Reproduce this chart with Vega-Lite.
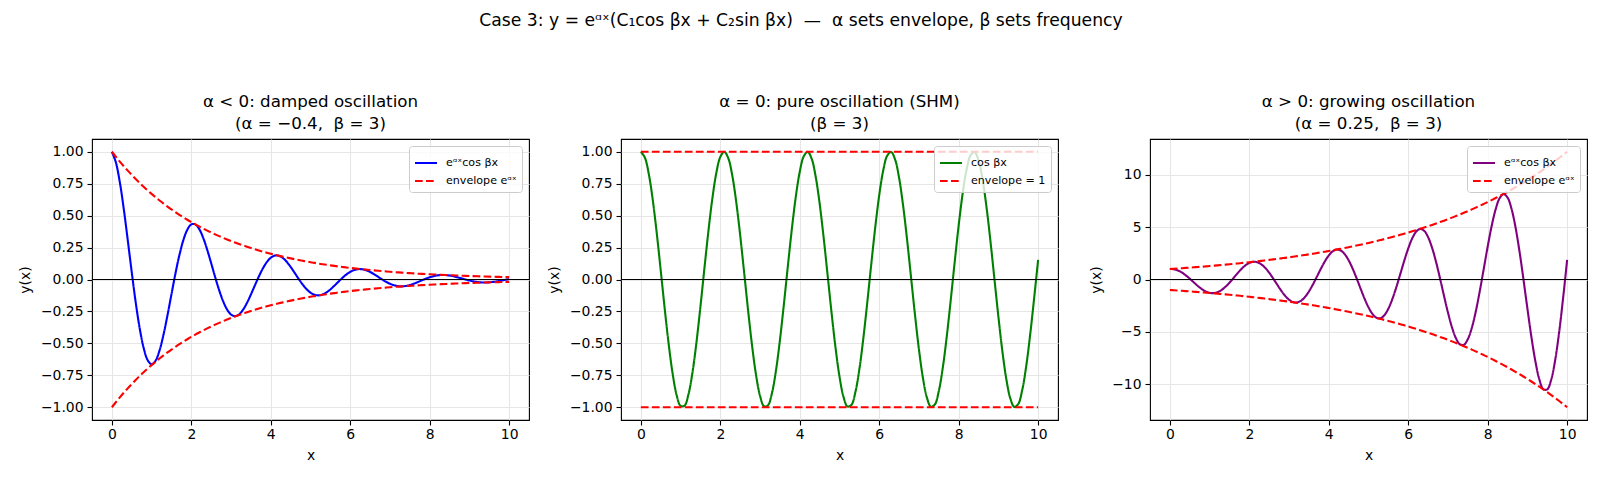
{
"$schema": "https://vega.github.io/schema/vega-lite/v6.json",
"background": "white",
"padding": {"left": 17, "top": 11, "right": 5, "bottom": 5},
"title": {"text": "Case 3: y = eᵅˣ(C₁cos βx + C₂sin βx) \u00a0—\u00a0 α sets envelope, β sets frequency", "anchor": "middle", "offset": 65, "fontSize": 17.2, "dx": -2},
"datasets": {
"d": [
{"x":0,"y1":1,"e1":1,"n1":-1,"y2":1,"y3":1,"e3":1,"n3":-1},
{"x":0.1,"y1":0.9179,"e1":0.9608,"n1":-0.9608,"y2":0.9553,"y3":0.9795,"e3":1.025,"n3":-1.025},
{"x":0.2,"y1":0.7619,"e1":0.9231,"n1":-0.9231,"y2":0.8253,"y3":0.8676,"e3":1.051,"n3":-1.051},
{"x":0.3,"y1":0.5513,"e1":0.8869,"n1":-0.8869,"y2":0.6216,"y3":0.67,"e3":1.078,"n3":-1.078},
{"x":0.4,"y1":0.3088,"e1":0.8521,"n1":-0.8521,"y2":0.3624,"y3":0.4005,"e3":1.105,"n3":-1.105},
{"x":0.5,"y1":0.0579,"e1":0.8187,"n1":-0.8187,"y2":0.0707,"y3":0.0801,"e3":1.133,"n3":-1.133},
{"x":0.6,"y1":-0.1787,"e1":0.7866,"n1":-0.7866,"y2":-0.2272,"y3":-0.264,"e3":1.162,"n3":-1.162},
{"x":0.7,"y1":-0.3815,"e1":0.7558,"n1":-0.7558,"y2":-0.5048,"y3":-0.6013,"e3":1.191,"n3":-1.191},
{"x":0.8,"y1":-0.5355,"e1":0.7261,"n1":-0.7261,"y2":-0.7374,"y3":-0.9007,"e3":1.221,"n3":-1.221},
{"x":0.9,"y1":-0.6308,"e1":0.6977,"n1":-0.6977,"y2":-0.9041,"y3":-1.1322,"e3":1.252,"n3":-1.252},
{"x":1.0,"y1":-0.6636,"e1":0.6703,"n1":-0.6703,"y2":-0.99,"y3":-1.2712,"e3":1.284,"n3":-1.284},
{"x":1.1,"y1":-0.636,"e1":0.644,"n1":-0.644,"y2":-0.9875,"y3":-1.3001,"e3":1.317,"n3":-1.317},
{"x":1.2,"y1":-0.5549,"e1":0.6188,"n1":-0.6188,"y2":-0.8968,"y3":-1.2106,"e3":1.35,"n3":-1.35},
{"x":1.3,"y1":-0.4316,"e1":0.5945,"n1":-0.5945,"y2":-0.7259,"y3":-1.0047,"e3":1.384,"n3":-1.384},
{"x":1.4,"y1":-0.2801,"e1":0.5712,"n1":-0.5712,"y2":-0.4903,"y3":-0.6958,"e3":1.419,"n3":-1.419},
{"x":1.5,"y1":-0.1157,"e1":0.5488,"n1":-0.5488,"y2":-0.2108,"y3":-0.3067,"e3":1.455,"n3":-1.455},
{"x":1.6,"y1":0.0461,"e1":0.5273,"n1":-0.5273,"y2":0.0875,"y3":0.1305,"e3":1.492,"n3":-1.492},
{"x":1.7,"y1":0.1915,"e1":0.5066,"n1":-0.5066,"y2":0.378,"y3":0.5782,"e3":1.53,"n3":-1.53},
{"x":1.8,"y1":0.3089,"e1":0.4868,"n1":-0.4868,"y2":0.6347,"y3":0.9954,"e3":1.568,"n3":-1.568},
{"x":1.9,"y1":0.3904,"e1":0.4677,"n1":-0.4677,"y2":0.8347,"y3":1.3422,"e3":1.608,"n3":-1.608},
{"x":2.0,"y1":0.4314,"e1":0.4493,"n1":-0.4493,"y2":0.9602,"y3":1.5831,"e3":1.649,"n3":-1.649},
{"x":2.1,"y1":0.4317,"e1":0.4317,"n1":-0.4317,"y2":0.9999,"y3":1.6903,"e3":1.69,"n3":-1.69},
{"x":2.2,"y1":0.3941,"e1":0.4148,"n1":-0.4148,"y2":0.9502,"y3":1.6469,"e3":1.733,"n3":-1.733},
{"x":2.3,"y1":0.3251,"e1":0.3985,"n1":-0.3985,"y2":0.8157,"y3":1.4496,"e3":1.777,"n3":-1.777},
{"x":2.4,"y1":0.233,"e1":0.3829,"n1":-0.3829,"y2":0.6084,"y3":1.1086,"e3":1.822,"n3":-1.822},
{"x":2.5,"y1":0.1275,"e1":0.3679,"n1":-0.3679,"y2":0.3466,"y3":0.6475,"e3":1.868,"n3":-1.868},
{"x":2.6,"y1":0.0191,"e1":0.3535,"n1":-0.3535,"y2":0.054,"y3":0.1034,"e3":1.916,"n3":-1.916},
{"x":2.7,"y1":-0.0827,"e1":0.3396,"n1":-0.3396,"y2":-0.2436,"y3":-0.4784,"e3":1.964,"n3":-1.964},
{"x":2.8,"y1":-0.1694,"e1":0.3263,"n1":-0.3263,"y2":-0.5193,"y3":-1.0457,"e3":2.014,"n3":-2.014},
{"x":2.9,"y1":-0.2347,"e1":0.3135,"n1":-0.3135,"y2":-0.7487,"y3":-1.5459,"e3":2.065,"n3":-2.065},
{"x":3.0,"y1":-0.2744,"e1":0.3012,"n1":-0.3012,"y2":-0.9111,"y3":-1.9288,"e3":2.117,"n3":-2.117},
{"x":3.1,"y1":-0.2871,"e1":0.2894,"n1":-0.2894,"y2":-0.9922,"y3":-2.1537,"e3":2.171,"n3":-2.171},
{"x":3.2,"y1":-0.2738,"e1":0.278,"n1":-0.278,"y2":-0.9847,"y3":-2.1915,"e3":2.226,"n3":-2.226},
{"x":3.3,"y1":-0.2375,"e1":0.2671,"n1":-0.2671,"y2":-0.8892,"y3":-2.029,"e3":2.282,"n3":-2.282},
{"x":3.4,"y1":-0.1833,"e1":0.2567,"n1":-0.2567,"y2":-0.7143,"y3":-1.6712,"e3":2.34,"n3":-2.34},
{"x":3.5,"y1":-0.1173,"e1":0.2466,"n1":-0.2466,"y2":-0.4755,"y3":-1.1407,"e3":2.399,"n3":-2.399},
{"x":3.6,"y1":-0.046,"e1":0.2369,"n1":-0.2369,"y2":-0.1943,"y3":-0.4779,"e3":2.46,"n3":-2.46},
{"x":3.7,"y1":0.0237,"e1":0.2276,"n1":-0.2276,"y2":0.1042,"y3":0.2628,"e3":2.522,"n3":-2.522},
{"x":3.8,"y1":0.0861,"e1":0.2187,"n1":-0.2187,"y2":0.3935,"y3":1.0175,"e3":2.586,"n3":-2.586},
{"x":3.9,"y1":0.1361,"e1":0.2101,"n1":-0.2101,"y2":0.6476,"y3":1.7169,"e3":2.651,"n3":-2.651},
{"x":4.0,"y1":0.1704,"e1":0.2019,"n1":-0.2019,"y2":0.8439,"y3":2.294,"e3":2.718,"n3":-2.718},
{"x":4.1,"y1":0.1871,"e1":0.194,"n1":-0.194,"y2":0.9647,"y3":2.6887,"e3":2.787,"n3":-2.787},
{"x":4.2,"y1":0.1863,"e1":0.1864,"n1":-0.1864,"y2":0.9994,"y3":2.8559,"e3":2.858,"n3":-2.858},
{"x":4.3,"y1":0.1692,"e1":0.1791,"n1":-0.1791,"y2":0.9449,"y3":2.7686,"e3":2.93,"n3":-2.93},
{"x":4.4,"y1":0.1387,"e1":0.172,"n1":-0.172,"y2":0.8059,"y3":2.4211,"e3":3.004,"n3":-3.004},
{"x":4.5,"y1":0.0983,"e1":0.1653,"n1":-0.1653,"y2":0.5949,"y3":1.8324,"e3":3.08,"n3":-3.08},
{"x":4.6,"y1":0.0525,"e1":0.1588,"n1":-0.1588,"y2":0.3308,"y3":1.0447,"e3":3.158,"n3":-3.158},
{"x":4.7,"y1":0.0057,"e1":0.1526,"n1":-0.1526,"y2":0.0372,"y3":0.1205,"e3":3.238,"n3":-3.238},
{"x":4.8,"y1":-0.0381,"e1":0.1466,"n1":-0.1466,"y2":-0.2598,"y3":-0.8626,"e3":3.32,"n3":-3.32},
{"x":4.9,"y1":-0.0752,"e1":0.1409,"n1":-0.1409,"y2":-0.5336,"y3":-1.8165,"e3":3.404,"n3":-3.404},
{"x":5.0,"y1":-0.1028,"e1":0.1353,"n1":-0.1353,"y2":-0.7597,"y3":-2.6516,"e3":3.49,"n3":-3.49},
{"x":5.1,"y1":-0.1194,"e1":0.13,"n1":-0.13,"y2":-0.9179,"y3":-3.2849,"e3":3.579,"n3":-3.579},
{"x":5.2,"y1":-0.1242,"e1":0.1249,"n1":-0.1249,"y2":-0.9942,"y3":-3.648,"e3":3.669,"n3":-3.669},
{"x":5.3,"y1":-0.1178,"e1":0.12,"n1":-0.12,"y2":-0.9816,"y3":-3.693,"e3":3.762,"n3":-3.762},
{"x":5.4,"y1":-0.1016,"e1":0.1153,"n1":-0.1153,"y2":-0.8814,"y3":-3.3999,"e3":3.857,"n3":-3.857},
{"x":5.5,"y1":-0.0778,"e1":0.1108,"n1":-0.1108,"y2":-0.7024,"y3":-2.778,"e3":3.955,"n3":-3.955},
{"x":5.6,"y1":-0.049,"e1":0.1065,"n1":-0.1065,"y2":-0.4607,"y3":-1.8682,"e3":4.055,"n3":-4.055},
{"x":5.7,"y1":-0.0182,"e1":0.1023,"n1":-0.1023,"y2":-0.1778,"y3":-0.7393,"e3":4.158,"n3":-4.158},
{"x":5.8,"y1":0.0119,"e1":0.0983,"n1":-0.0983,"y2":0.121,"y3":0.5158,"e3":4.263,"n3":-4.263},
{"x":5.9,"y1":0.0386,"e1":0.0944,"n1":-0.0944,"y2":0.4089,"y3":1.7873,"e3":4.371,"n3":-4.371},
{"x":6.0,"y1":0.0599,"e1":0.0907,"n1":-0.0907,"y2":0.6603,"y3":2.9592,"e3":4.482,"n3":-4.482},
{"x":6.1,"y1":0.0743,"e1":0.0872,"n1":-0.0872,"y2":0.8528,"y3":3.9187,"e3":4.595,"n3":-4.595},
{"x":6.2,"y1":0.0811,"e1":0.0837,"n1":-0.0837,"y2":0.969,"y3":4.5654,"e3":4.711,"n3":-4.711},
{"x":6.3,"y1":0.0804,"e1":0.0805,"n1":-0.0805,"y2":0.9987,"y3":4.8245,"e3":4.831,"n3":-4.831},
{"x":6.4,"y1":0.0726,"e1":0.0773,"n1":-0.0773,"y2":0.9392,"y3":4.6519,"e3":4.953,"n3":-4.953},
{"x":6.5,"y1":0.0591,"e1":0.0743,"n1":-0.0743,"y2":0.7958,"y3":4.0414,"e3":5.078,"n3":-5.078},
{"x":6.6,"y1":0.0415,"e1":0.0714,"n1":-0.0714,"y2":0.5813,"y3":3.0268,"e3":5.207,"n3":-5.207},
{"x":6.7,"y1":0.0216,"e1":0.0686,"n1":-0.0686,"y2":0.3149,"y3":1.6812,"e3":5.339,"n3":-5.339},
{"x":6.8,"y1":0.0013,"e1":0.0659,"n1":-0.0659,"y2":0.0203,"y3":0.1111,"e3":5.474,"n3":-5.474},
{"x":6.9,"y1":-0.0175,"e1":0.0633,"n1":-0.0633,"y2":-0.276,"y3":-1.5491,"e3":5.613,"n3":-5.613},
{"x":7.0,"y1":-0.0333,"e1":0.0608,"n1":-0.0608,"y2":-0.5478,"y3":-3.1524,"e3":5.755,"n3":-5.755},
{"x":7.1,"y1":-0.045,"e1":0.0584,"n1":-0.0584,"y2":-0.7705,"y3":-4.5461,"e3":5.9,"n3":-5.9},
{"x":7.2,"y1":-0.0519,"e1":0.0561,"n1":-0.0561,"y2":-0.9245,"y3":-5.5929,"e3":6.05,"n3":-6.05},
{"x":7.3,"y1":-0.0537,"e1":0.0539,"n1":-0.0539,"y2":-0.9959,"y3":-6.1774,"e3":6.203,"n3":-6.203},
{"x":7.4,"y1":-0.0507,"e1":0.0518,"n1":-0.0518,"y2":-0.9783,"y3":-6.2218,"e3":6.36,"n3":-6.36},
{"x":7.5,"y1":-0.0435,"e1":0.0498,"n1":-0.0498,"y2":-0.8733,"y3":-5.6946,"e3":6.521,"n3":-6.521},
{"x":7.6,"y1":-0.033,"e1":0.0478,"n1":-0.0478,"y2":-0.6903,"y3":-4.6153,"e3":6.686,"n3":-6.686},
{"x":7.7,"y1":-0.0205,"e1":0.046,"n1":-0.046,"y2":-0.4457,"y3":-3.0553,"e3":6.855,"n3":-6.855},
{"x":7.8,"y1":-0.0071,"e1":0.0442,"n1":-0.0442,"y2":-0.1612,"y3":-1.133,"e3":7.029,"n3":-7.029},
{"x":7.9,"y1":0.0058,"e1":0.0424,"n1":-0.0424,"y2":0.1376,"y3":0.9916,"e3":7.207,"n3":-7.207},
{"x":8.0,"y1":0.0173,"e1":0.0408,"n1":-0.0408,"y2":0.4242,"y3":3.1344,"e3":7.389,"n3":-7.389},
{"x":8.1,"y1":0.0264,"e1":0.0392,"n1":-0.0392,"y2":0.6729,"y3":5.098,"e3":7.576,"n3":-7.576},
{"x":8.2,"y1":0.0324,"e1":0.0376,"n1":-0.0376,"y2":0.8614,"y3":6.6912,"e3":7.768,"n3":-7.768},
{"x":8.3,"y1":0.0352,"e1":0.0362,"n1":-0.0362,"y2":0.973,"y3":7.7495,"e3":7.965,"n3":-7.965},
{"x":8.4,"y1":0.0347,"e1":0.0347,"n1":-0.0347,"y2":0.9977,"y3":8.1474,"e3":8.166,"n3":-8.166},
{"x":8.5,"y1":0.0311,"e1":0.0334,"n1":-0.0334,"y2":0.9333,"y3":7.8144,"e3":8.373,"n3":-8.373},
{"x":8.6,"y1":0.0252,"e1":0.0321,"n1":-0.0321,"y2":0.7855,"y3":6.7434,"e3":8.585,"n3":-8.585},
{"x":8.7,"y1":0.0175,"e1":0.0308,"n1":-0.0308,"y2":0.5675,"y3":4.9952,"e3":8.802,"n3":-8.802},
{"x":8.8,"y1":0.0088,"e1":0.0296,"n1":-0.0296,"y2":0.2989,"y3":2.6976,"e3":9.025,"n3":-9.025},
{"x":8.9,"y1":0.0001,"e1":0.0284,"n1":-0.0284,"y2":0.0035,"y3":0.0324,"e3":9.253,"n3":-9.253},
{"x":9.0,"y1":-0.008,"e1":0.0273,"n1":-0.0273,"y2":-0.2922,"y3":-2.7723,"e3":9.488,"n3":-9.488},
{"x":9.1,"y1":-0.0147,"e1":0.0263,"n1":-0.0263,"y2":-0.5618,"y3":-5.4651,"e3":9.728,"n3":-9.728},
{"x":9.2,"y1":-0.0197,"e1":0.0252,"n1":-0.0252,"y2":-0.7812,"y3":-7.7918,"e3":9.974,"n3":-9.974},
{"x":9.3,"y1":-0.0226,"e1":0.0242,"n1":-0.0242,"y2":-0.9308,"y3":-9.519,"e3":10.227,"n3":-10.227},
{"x":9.4,"y1":-0.0232,"e1":0.0233,"n1":-0.0233,"y2":-0.9973,"y3":-10.4573,"e3":10.486,"n3":-10.486},
{"x":9.5,"y1":-0.0218,"e1":0.0224,"n1":-0.0224,"y2":-0.9746,"y3":-10.4779,"e3":10.751,"n3":-10.751},
{"x":9.6,"y1":-0.0186,"e1":0.0215,"n1":-0.0215,"y2":-0.865,"y3":-9.535,"e3":11.023,"n3":-11.023},
{"x":9.7,"y1":-0.014,"e1":0.0207,"n1":-0.0207,"y2":-0.678,"y3":-7.6629,"e3":11.302,"n3":-11.302},
{"x":9.8,"y1":-0.0085,"e1":0.0198,"n1":-0.0198,"y2":-0.4305,"y3":-4.9888,"e3":11.588,"n3":-11.588},
{"x":9.9,"y1":-0.0028,"e1":0.0191,"n1":-0.0191,"y2":-0.1446,"y3":-1.7181,"e3":11.882,"n3":-11.882},
{"x":10.0,"y1":0.0028,"e1":0.0183,"n1":-0.0183,"y2":0.1543,"y3":1.8798,"e3":12.182,"n3":-12.182}
],
"env2": [
{"x":0,"u":1,"l":-1},
{"x":10,"u":1,"l":-1}
]
},
"hconcat": [
{
"width": 437, "height": 281,
"title": {"text": ["α < 0: damped oscillation", "(α = −0.4, \u00a0β = 3)"]},
"data": {"name": "d"},
"layer": [
{"mark": {"type": "line", "interpolate": "catmull-rom", "strokeWidth": 2.1, "clip": true},
 "encoding": {
  "x": {"field": "x", "type": "quantitative", "scale": {"domain": [-0.5, 10.5], "nice": false, "zero": false}, "axis": {"values": [0,2,4,6,8,10], "tickCount": 20, "format": "d", "title": "x"}},
  "y": {"field": "y1", "type": "quantitative", "scale": {"domain": [-1.1, 1.1], "nice": false, "zero": false}, "axis": {"values": [-1,-0.75,-0.5,-0.25,0,0.25,0.5,0.75,1], "tickCount": 20, "format": ".2f", "title": "y(x)"}},
  "color": {"datum": "eᵅˣcos βx", "type": "nominal", "scale": {"domain": ["eᵅˣcos βx", "envelope eᵅˣ"], "range": ["#0000ff", "#ff0000"]}, "legend": {"title": null}},
  "strokeDash": {"datum": "eᵅˣcos βx", "type": "nominal", "scale": {"domain": ["eᵅˣcos βx", "envelope eᵅˣ"], "range": [[1,0],[7.7,3.3]]}, "legend": {"title": null}}
 }},
{"mark": {"type": "line", "interpolate": "catmull-rom", "strokeWidth": 2.1, "clip": true},
 "encoding": {
  "x": {"field": "x", "type": "quantitative"},
  "y": {"field": "e1", "type": "quantitative"},
  "color": {"datum": "envelope eᵅˣ", "type": "nominal"},
  "strokeDash": {"datum": "envelope eᵅˣ", "type": "nominal"}
 }},
{"mark": {"type": "line", "interpolate": "catmull-rom", "strokeWidth": 2.1, "clip": true},
 "encoding": {
  "x": {"field": "x", "type": "quantitative"},
  "y": {"field": "n1", "type": "quantitative"},
  "color": {"datum": "envelope eᵅˣ", "type": "nominal"},
  "strokeDash": {"datum": "envelope eᵅˣ", "type": "nominal"}
 }},
{"data": {"values": [{}]}, "mark": {"type": "rule", "color": "black", "strokeWidth": 1.1},
 "encoding": {"y": {"datum": 0}}}
]
},
{
"width": 437, "height": 281,
"title": {"text": ["α = 0: pure oscillation (SHM)", "(β = 3)"]},
"layer": [
{"data": {"name": "d"},
 "mark": {"type": "line", "interpolate": "catmull-rom", "strokeWidth": 2.1, "clip": true},
 "encoding": {
  "x": {"field": "x", "type": "quantitative", "scale": {"domain": [-0.5, 10.5], "nice": false, "zero": false}, "axis": {"values": [0,2,4,6,8,10], "tickCount": 20, "format": "d", "title": "x"}},
  "y": {"field": "y2", "type": "quantitative", "scale": {"domain": [-1.1, 1.1], "nice": false, "zero": false}, "axis": {"values": [-1,-0.75,-0.5,-0.25,0,0.25,0.5,0.75,1], "tickCount": 20, "format": ".2f", "title": "y(x)"}},
  "color": {"datum": "cos βx", "type": "nominal", "scale": {"domain": ["cos βx", "envelope = 1"], "range": ["#008000", "#ff0000"]}, "legend": {"title": null}},
  "strokeDash": {"datum": "cos βx", "type": "nominal", "scale": {"domain": ["cos βx", "envelope = 1"], "range": [[1,0],[7.7,3.3]]}, "legend": {"title": null}}
 }},
{"data": {"name": "env2"},
 "mark": {"type": "line", "strokeWidth": 2.1, "clip": true},
 "encoding": {
  "x": {"field": "x", "type": "quantitative"},
  "y": {"field": "u", "type": "quantitative"},
  "color": {"datum": "envelope = 1", "type": "nominal"},
  "strokeDash": {"datum": "envelope = 1", "type": "nominal"}
 }},
{"data": {"name": "env2"},
 "mark": {"type": "line", "strokeWidth": 2.1, "clip": true},
 "encoding": {
  "x": {"field": "x", "type": "quantitative"},
  "y": {"field": "l", "type": "quantitative"},
  "color": {"datum": "envelope = 1", "type": "nominal"},
  "strokeDash": {"datum": "envelope = 1", "type": "nominal"}
 }},
{"data": {"values": [{}]}, "mark": {"type": "rule", "color": "black", "strokeWidth": 1.1},
 "encoding": {"y": {"datum": 0}}}
]
},
{
"width": 437, "height": 281,
"title": {"text": ["α > 0: growing oscillation", "(α = 0.25, \u00a0β = 3)"]},
"data": {"name": "d"},
"layer": [
{"mark": {"type": "line", "interpolate": "catmull-rom", "strokeWidth": 2.1, "clip": true},
 "encoding": {
  "x": {"field": "x", "type": "quantitative", "scale": {"domain": [-0.5, 10.5], "nice": false, "zero": false}, "axis": {"values": [0,2,4,6,8,10], "tickCount": 20, "format": "d", "title": "x"}},
  "y": {"field": "y3", "type": "quantitative", "scale": {"domain": [-13.4, 13.4], "nice": false, "zero": false}, "axis": {"values": [-10,-5,0,5,10], "tickCount": 20, "format": "d", "title": "y(x)"}},
  "color": {"datum": "eᵅˣcos βx", "type": "nominal", "scale": {"domain": ["eᵅˣcos βx", "envelope eᵅˣ"], "range": ["#800080", "#ff0000"]}, "legend": {"title": null}},
  "strokeDash": {"datum": "eᵅˣcos βx", "type": "nominal", "scale": {"domain": ["eᵅˣcos βx", "envelope eᵅˣ"], "range": [[1,0],[7.7,3.3]]}, "legend": {"title": null}}
 }},
{"mark": {"type": "line", "interpolate": "catmull-rom", "strokeWidth": 2.1, "clip": true},
 "encoding": {
  "x": {"field": "x", "type": "quantitative"},
  "y": {"field": "e3", "type": "quantitative"},
  "color": {"datum": "envelope eᵅˣ", "type": "nominal"},
  "strokeDash": {"datum": "envelope eᵅˣ", "type": "nominal"}
 }},
{"mark": {"type": "line", "interpolate": "catmull-rom", "strokeWidth": 2.1, "clip": true},
 "encoding": {
  "x": {"field": "x", "type": "quantitative"},
  "y": {"field": "n3", "type": "quantitative"},
  "color": {"datum": "envelope eᵅˣ", "type": "nominal"},
  "strokeDash": {"datum": "envelope eᵅˣ", "type": "nominal"}
 }},
{"data": {"values": [{}]}, "mark": {"type": "rule", "color": "black", "strokeWidth": 1.1},
 "encoding": {"y": {"datum": 0}}}
]
}
],
"spacing": 92,
"bounds": "flush",
"resolve": {"scale": {"color": "independent", "strokeDash": "independent"}},
"config": {
 "font": "DejaVu Sans",
 "view": {"stroke": "black", "strokeWidth": 1.1},
 "axis": {"domain": false, "grid": true, "gridColor": "#e6e6e6", "gridWidth": 1.1, "tickColor": "black", "tickWidth": 1.1, "tickSize": 5, "labelFont": "DejaVu Sans", "labelFontSize": 13.9, "labelColor": "black", "labelPadding": 4, "labelOverlap": false, "titleFont": "DejaVu Sans", "titleFontSize": 13.9, "titleFontWeight": "normal", "titleColor": "black"},
 "axisY": {"titlePadding": 8},
 "axisX": {"titlePadding": 8, "labelPadding": 2, "labelFlush": false},
 "legend": {"orient": "top-right", "offset": 7, "padding": 5, "fillColor": "rgba(255,255,255,0.8)", "strokeColor": "#cccccc", "cornerRadius": 3, "labelFont": "DejaVu Sans", "labelFontSize": 11.1, "labelColor": "black", "symbolType": "stroke", "symbolSize": 484, "symbolStrokeWidth": 2, "labelOffset": 8, "rowPadding": 0},
 "title": {"font": "DejaVu Sans", "fontSize": 16.7, "fontWeight": "normal", "color": "black", "lineHeight": 22, "offset": 6}
}
}
